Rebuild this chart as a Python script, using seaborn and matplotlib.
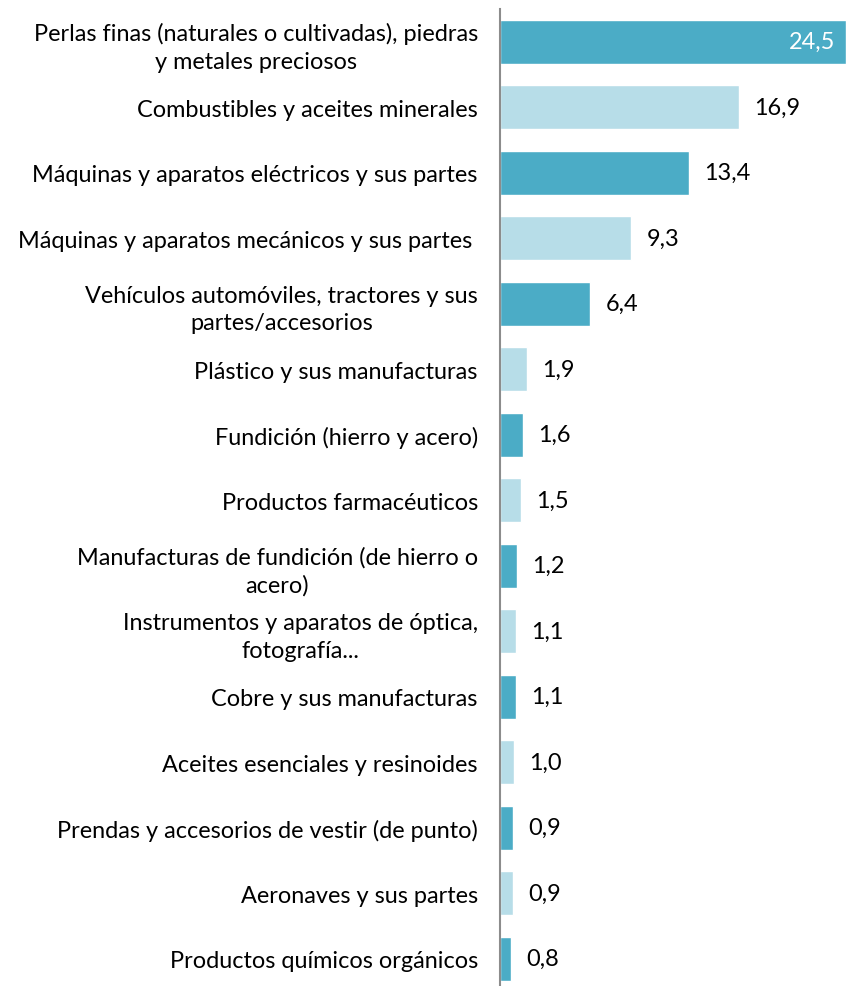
import matplotlib
matplotlib.use("Agg")
import matplotlib.pyplot as plt
import seaborn as sns
import pandas as pd

categories = [
    "Perlas finas (naturales o cultivadas), piedras\ny metales preciosos",
    "Combustibles y aceites minerales",
    "Máquinas y aparatos eléctricos y sus partes",
    "Máquinas y aparatos mecánicos y sus partes ",
    "Vehículos automóviles, tractores y sus\npartes/accesorios",
    "Plástico y sus manufacturas",
    "Fundición (hierro y acero)",
    "Productos farmacéuticos",
    "Manufacturas de fundición (de hierro o\nacero)",
    "Instrumentos y aparatos de óptica,\nfotografía...",
    "Cobre y sus manufacturas",
    "Aceites esenciales y resinoides",
    "Prendas y accesorios de vestir (de punto)",
    "Aeronaves y sus partes",
    "Productos químicos orgánicos",
]
values = [24.5, 16.9, 13.4, 9.3, 6.4, 1.9, 1.6, 1.5, 1.2, 1.1, 1.1, 1.0, 0.9, 0.9, 0.8]
dark = "#4BACC6"
light = "#B7DDE8"
colors = [dark if i % 2 == 0 else light for i in range(len(categories))]

df = pd.DataFrame({"cat": categories, "val": values})

sns.set_style("white")
plt.rcParams["font.family"] = ["Lato", "DejaVu Sans"]

FS = 16.9

fig = plt.figure(figsize=(8.46, 9.87), dpi=100)
ax = fig.add_axes([500 / 846, 0, 346 / 846, 977 / 987])
sns.barplot(data=df, x="val", y="cat", hue="cat", palette=colors, legend=False,
            width=0.67, ax=ax, saturation=1, orient="h")

ax.set_xlim(0, 24.5)
ax.set_ylim(-0.5 + 977 / 65.5, -0.5)
ax.set_xlabel("")
ax.set_ylabel("")
ax.set_xticks([])
for s in ["top", "right", "bottom"]:
    ax.spines[s].set_visible(False)
ax.spines["left"].set_color("#8c8c8c")
ax.spines["left"].set_linewidth(1.5)
ax.tick_params(axis="y", length=0, pad=16, labelsize=FS, labelcolor="black")
for lab in ax.get_yticklabels():
    lab.set_multialignment("center")
    lab.set_linespacing(1.38)

for i, v in enumerate(values):
    txt = f"{v:.1f}".replace(".", ",")
    if i == 0:
        ax.annotate(txt, (v, i), xytext=(-8, 0), textcoords="offset points",
                    ha="right", va="center", color="white", fontsize=FS)
    else:
        ax.annotate(txt, (v, i), xytext=(11, 0), textcoords="offset points",
                    ha="left", va="center", color="black", fontsize=FS)

fig.savefig("out.png", dpi=100)
